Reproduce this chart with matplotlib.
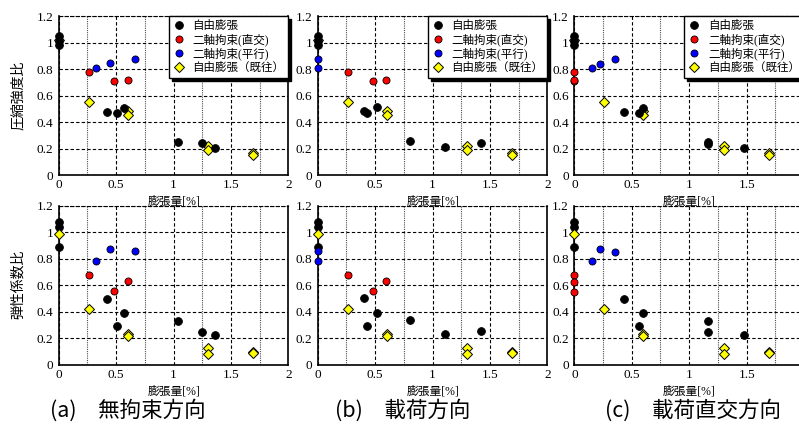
import matplotlib.pyplot as plt
from matplotlib.ticker import MultipleLocator, FuncFormatter

plt.rcParams['font.family'] = ['Liberation Serif', 'Noto Sans CJK JP']

# 自由膨張（既往） : 3方向とも同じ値
kiou_x = [0, 0.26, 0.6, 0.6, 1.3, 1.3, 1.695, 1.695]
kiou_comp = [1.02, 0.555, 0.485, 0.457, 0.219, 0.19, 0.166, 0.151]
kiou_elas = [0.99, 0.42, 0.237, 0.222, 0.125, 0.086, 0.097, 0.09]

# (a) 無拘束方向
a_free_x = [0, 0, 0, 0.42, 0.51, 0.57, 1.04, 1.25, 1.36]
a_free_comp = [1.05, 1.01, 0.98, 0.478, 0.466, 0.503, 0.251, 0.239, 0.201]
a_free_elas = [1.08, 1.04, 0.887, 0.497, 0.294, 0.394, 0.334, 0.249, 0.226]
a_ortho_x = [0.266, 0.485, 0.6]
a_ortho_comp = [0.78, 0.709, 0.715]
a_ortho_elas = [0.678, 0.555, 0.631]
a_para_x = [0.325, 0.45, 0.663]
a_para_comp = [0.808, 0.843, 0.875]
a_para_elas = [0.786, 0.877, 0.857]

# (b) 載荷方向
b_free_x = [0, 0, 0, 0.40, 0.43, 0.515, 0.80, 1.11, 1.42]
b_free_comp = [1.05, 1.01, 0.98, 0.485, 0.47, 0.511, 0.259, 0.211, 0.239]
b_free_elas = [1.08, 1.04, 0.887, 0.503, 0.296, 0.394, 0.339, 0.231, 0.254]
b_ortho_x = [0.265, 0.48, 0.597]
b_ortho_comp = [0.782, 0.709, 0.717]
b_ortho_elas = [0.681, 0.558, 0.631]
b_para_x = [0, 0]
b_para_comp = [0.808, 0.878]
b_para_elas = [0.786, 0.857]

# (c) 載荷直交方向
c_free_x = [0, 0, 0, 0.435, 0.56, 0.60, 1.165, 1.165, 1.475]
c_free_comp = [1.05, 1.01, 0.98, 0.478, 0.466, 0.503, 0.251, 0.233, 0.204]
c_free_elas = [1.08, 1.04, 0.887, 0.495, 0.291, 0.389, 0.332, 0.246, 0.224]
c_ortho_x = [0, 0, 0]
c_ortho_comp = [0.78, 0.709, 0.715]
c_ortho_elas = [0.678, 0.553, 0.628]
c_para_x = [0.155, 0.224, 0.352]
c_para_comp = [0.805, 0.84, 0.875]
c_para_elas = [0.781, 0.874, 0.852]

labels = ['自由膨張', '二軸拘束(直交)', '二軸拘束(平行)', '自由膨張（既往）']
captions = ['(a)\u3000無拘束方向', '(b)\u3000載荷方向', '(c)\u3000載荷直交方向']
ylabels = ['圧縮強度比', '弾性係数比']

jp = ['Noto Sans CJK JP']


def fmt_last_off(hide_last):
    # 右端の「2」は図の外にはみ出すので表示しない
    def f(v, p):
        if hide_last and v > 1.9:
            return ''
        return '%g' % round(v, 2)
    return FuncFormatter(f)


def panel(ax, fx, fy, ox, oy, px, py, ky, top, cut=False):
    # 既往データは上段では後ろ、下段では前
    kz = 2 if top else 4
    ax.plot(fx, fy, 'o', ms=5.6, mfc='k', mec='k', mew=0.6, zorder=3,
            clip_on=False, label=labels[0])
    ax.plot(ox, oy, 'o', ms=5.1, mfc='#ff0000', mec='k', mew=0.6, zorder=3,
            clip_on=False, label=labels[1])
    ax.plot(px, py, 'o', ms=5.1, mfc='#0000ff', mec='k', mew=0.6, zorder=3,
            clip_on=False, label=labels[2])
    ax.plot(kiou_x, ky, 'D', ms=5.4, mfc='#ffff00', mec='k', mew=0.7, zorder=kz,
            clip_on=False, label=labels[3])

    ax.set_xlim(0, 2)
    ax.set_ylim(0, 1.2)
    ax.xaxis.set_major_locator(MultipleLocator(0.5))
    ax.xaxis.set_minor_locator(MultipleLocator(0.25))
    ax.yaxis.set_major_locator(MultipleLocator(0.2))
    ax.xaxis.set_major_formatter(fmt_last_off(cut))
    ax.yaxis.set_major_formatter(fmt_last_off(False))
    ax.tick_params(which='both', length=0, labelsize=9.5)
    ax.tick_params(axis='x', pad=3)
    ax.tick_params(axis='y', pad=4)
    ax.grid(True, which='major', color='k', lw=0.8, ls=(0, (3, 2)))
    ax.grid(True, which='minor', axis='x', color='0.3', lw=0.8, ls=(0, (1, 1)))
    ax.set_axisbelow(True)
    for s in ['left', 'bottom', 'right']:
        ax.spines[s].set_linewidth(1.2)
    ax.spines['top'].set_linestyle((0, (3, 2)))
    ax.spines['top'].set_linewidth(0.8)

    ax.set_xlabel('膨張量[%]', fontsize=8.5, labelpad=3)

    if top:
        leg = ax.legend(loc='upper right', borderaxespad=0, fontsize=8.3,
                        handlelength=1.0, handletextpad=0.7, labelspacing=0.12,
                        borderpad=0.35, fancybox=False, framealpha=1,
                        shadow={'color': 'k', 'alpha': 1})
        leg.get_frame().set_edgecolor('k')
        leg.get_frame().set_linewidth(1.0)


fig = plt.figure(figsize=(7.99, 4.25), dpi=100)

lefts = [0.0735, 0.3976, 0.7188]
w = 0.2875
data = [
    (a_free_x, a_free_comp, a_free_elas, a_ortho_x, a_ortho_comp, a_ortho_elas,
     a_para_x, a_para_comp, a_para_elas),
    (b_free_x, b_free_comp, b_free_elas, b_ortho_x, b_ortho_comp, b_ortho_elas,
     b_para_x, b_para_comp, b_para_elas),
    (c_free_x, c_free_comp, c_free_elas, c_ortho_x, c_ortho_comp, c_ortho_elas,
     c_para_x, c_para_comp, c_para_elas),
]

for i in range(3):
    fx, fc, fe, ox, oc, oe, px, pc, pe = data[i]
    ax1 = fig.add_axes([lefts[i], 0.588, w, 0.374])
    panel(ax1, fx, fc, ox, oc, px, pc, kiou_comp, True, cut=(i == 2))
    ax2 = fig.add_axes([lefts[i], 0.1412, w, 0.3746])
    panel(ax2, fx, fe, ox, oe, px, pe, kiou_elas, False, cut=(i == 2))

fig.text(0.022, 0.775, ylabels[0], rotation=90, ha='center', va='center',
         fontsize=10, family=jp)
fig.text(0.022, 0.33, ylabels[1], rotation=90, ha='center', va='center',
         fontsize=10, family=jp)

cx = [0.16, 0.504, 0.867]
for i in range(3):
    fig.text(cx[i], 0.034, captions[i], ha='center', va='center',
             fontsize=15.5, family=jp)

fig.savefig('out.png', dpi=100)
